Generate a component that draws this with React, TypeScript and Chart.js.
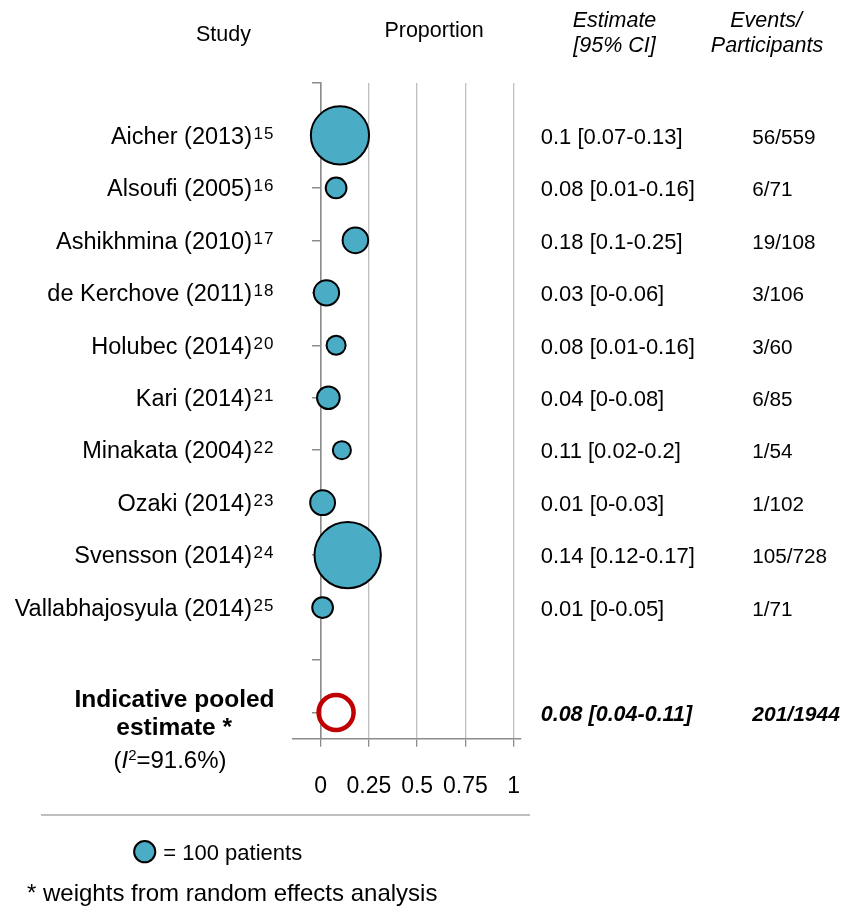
import React, { useEffect, useRef } from 'react';
import { Chart, registerables } from 'chart.js';

Chart.register(...registerables);

const FONT = "'Liberation Sans', Arial, Helvetica, sans-serif";

// ---- data ----
const studies = ['Aicher', 'Alsoufi', 'Ashikhmina', 'de Kerchove', 'Holubec', 'Kari', 'Minakata', 'Ozaki', 'Svensson', 'Vallabhajosyula'];
const years = [2013, 2005, 2010, 2011, 2014, 2014, 2004, 2014, 2014, 2014];
const refs = [15, 16, 17, 18, 20, 21, 22, 23, 24, 25];
const estimates = [0.1, 0.08, 0.18, 0.03, 0.08, 0.04, 0.11, 0.01, 0.14, 0.01];
const ciLower = [0.07, 0.01, 0.1, 0, 0.01, 0, 0.02, 0, 0.12, 0];
const ciUpper = [0.13, 0.16, 0.25, 0.06, 0.16, 0.08, 0.2, 0.03, 0.17, 0.05];
const events = [56, 6, 19, 3, 3, 6, 1, 1, 105, 1];
const participants = [559, 71, 108, 106, 60, 85, 54, 102, 728, 71];

const pooledEstimate = 0.08;
const pooledLower = 0.04;
const pooledUpper = 0.11;
const pooledEvents = 201;
const pooledParticipants = 1944;
const heterogeneityI2 = '91.6%';

const xTicks = [0, 0.25, 0.5, 0.75, 1];
const legendPatients = 100;

// ---- helpers ----
const ROWS = studies.length + 3; // studies + blank + pooled + top edge
const rowValue = (i: number) => studies.length + 1.5 - i;
const pooledRow = 0.5;
const yTicks = Array.from({ length: ROWS }, (_, i) => i + 0.5);
const bubbleRadius = (n: number) => 1.23 * Math.sqrt(n);

const textPlugin = {
  id: 'forestText',
  afterDraw(chart: any) {
    const { ctx, scales } = chart;
    const y = scales.y;
    ctx.save();
    ctx.fillStyle = '#000';
    ctx.textBaseline = 'alphabetic';

    // headers
    ctx.font = `21.5px ${FONT}`;
    ctx.textAlign = 'center';
    ctx.fillText('Study', 223.5, 41);
    ctx.fillText('Proportion', 434, 37);
    ctx.font = `italic 21.5px ${FONT}`;
    ctx.fillText('Estimate', 614.5, 27);
    ctx.fillText('[95% CI]', 614.5, 52);
    ctx.fillText('Events/', 766, 27);
    ctx.fillText('Participants', 767, 52);

    // study rows
    studies.forEach((s, i) => {
      const py = y.getPixelForValue(rowValue(i));
      const base = py + 8.3;
      ctx.textAlign = 'right';
      ctx.font = `23.5px ${FONT}`;
      ctx.fillText(`${s} (${years[i]})`, 252, base);
      ctx.textAlign = 'left';
      ctx.font = `17px ${FONT}`;
      (ctx as any).letterSpacing = '1px';
      ctx.fillText(String(refs[i]), 253.5, base - 5);
      (ctx as any).letterSpacing = '0px';
      ctx.font = `22px ${FONT}`;
      ctx.fillText(`${estimates[i]} [${ciLower[i]}-${ciUpper[i]}]`, 540.7, base);
      ctx.font = `20.7px ${FONT}`;
      ctx.fillText(`${events[i]}/${participants[i]}`, 752.3, base);
    });

    // pooled row
    const pp = y.getPixelForValue(pooledRow);
    ctx.textAlign = 'left';
    ctx.font = `italic bold 21.5px ${FONT}`;
    ctx.fillText(`${pooledEstimate} [${pooledLower}-${pooledUpper}]`, 540.7, pp + 8.8);
    ctx.font = `italic bold 21px ${FONT}`;
    ctx.fillText(`${pooledEvents}/${pooledParticipants}`, 752.3, pp + 8.8);

    ctx.textAlign = 'center';
    ctx.font = `bold 24.5px ${FONT}`;
    ctx.fillText('Indicative pooled', 174.5, pp - 5);
    ctx.fillText('estimate *', 174.2, pp + 23);

    // (I²=91.6%)
    const parts: [string, string, number][] = [
      ['(', `24px ${FONT}`, 0],
      ['I', `italic 24px ${FONT}`, 0],
      ['2', `15px ${FONT}`, -8],
      [`=${heterogeneityI2})`, `24px ${FONT}`, 0],
    ];
    let total = 0;
    parts.forEach(([t, f]) => { ctx.font = f; total += ctx.measureText(t).width; });
    let cx = 170 - total / 2;
    ctx.textAlign = 'left';
    parts.forEach(([t, f, dy]) => {
      ctx.font = f;
      ctx.fillText(t, cx, pp + 56 + dy);
      cx += ctx.measureText(t).width;
    });

    // separator
    ctx.strokeStyle = '#BFBFBF';
    ctx.lineWidth = 2;
    ctx.beginPath();
    ctx.moveTo(41, 815);
    ctx.lineTo(530, 815);
    ctx.stroke();

    // legend
    ctx.beginPath();
    ctx.arc(144.7, 851.7, 10.6, 0, Math.PI * 2);
    ctx.fillStyle = '#4BACC6';
    ctx.fill();
    ctx.strokeStyle = '#000';
    ctx.lineWidth = 2;
    ctx.stroke();
    ctx.fillStyle = '#000';
    ctx.font = `22px ${FONT}`;
    ctx.fillText(`= ${legendPatients} patients`, 163.3, 859.5);

    // footnote
    ctx.font = `24px ${FONT}`;
    ctx.fillText('* weights from random effects analysis', 27, 901);

    ctx.restore();
  },
};

export default function App() {
  const ref = useRef<HTMLCanvasElement>(null);
  useEffect(() => {
    Chart.defaults.font.family = FONT;
    const chart = new Chart(ref.current as HTMLCanvasElement, {
      type: 'bubble',
      data: {
        datasets: [
          {
            data: studies.map((_, i) => ({ x: estimates[i], y: rowValue(i), r: bubbleRadius(participants[i]) })),
            backgroundColor: '#4BACC6',
            borderColor: '#000000',
            borderWidth: 2,
          },
          {
            data: [{ x: pooledEstimate, y: pooledRow, r: 17.5 }],
            backgroundColor: 'rgba(255,255,255,0)',
            borderColor: '#C00000',
            borderWidth: 4.5,
          },
        ],
      },
      options: {
        responsive: false,
        animation: false,
        devicePixelRatio: 1,
        events: [],
        layout: { padding: { left: 292.7, right: 857 - 520.7, top: 83, bottom: 110.3 } },
        plugins: { legend: { display: false }, tooltip: { enabled: false } },
        scales: {
          x: {
            type: 'linear',
            min: -0.145,
            max: 1.037,
            afterBuildTicks: (s: any) => { s.ticks = xTicks.map((v) => ({ value: v })); },
            afterFit: (s: any) => { s.height = 60; },
            grid: {
              color: (c: any) => (c.tick && c.tick.value === 0 ? '#8C8C8C' : '#BFBFBF'),
              lineWidth: 1.3,
              tickColor: '#8C8C8C',
              tickLength: 8,
            },
            border: { color: '#8C8C8C', width: 1.5 },
            ticks: {
              color: '#000',
              font: { size: 23, family: FONT },
              padding: 26,
              maxRotation: 0,
              autoSkip: false,
              callback: (v: any) => String(v),
            },
          },
          y: {
            type: 'linear',
            position: { x: 0 } as any,
            min: 0,
            max: yTicks[yTicks.length - 1],
            afterBuildTicks: (s: any) => { s.ticks = yTicks.map((v) => ({ value: v })); },
            ticks: { display: false },
            grid: { drawOnChartArea: false, color: '#8C8C8C', lineWidth: 1.5, tickLength: 8 },
            border: { color: '#8C8C8C', width: 1.5 },
          },
        },
      },
      plugins: [textPlugin],
    } as any);
    return () => chart.destroy();
  }, []);
  return (
    <div style={{ position: 'absolute', left: 0, top: 0, width: 857, height: 909, background: '#fff' }}>
      <canvas ref={ref} width={857} height={909} style={{ display: 'block' }} />
    </div>
  );
}
